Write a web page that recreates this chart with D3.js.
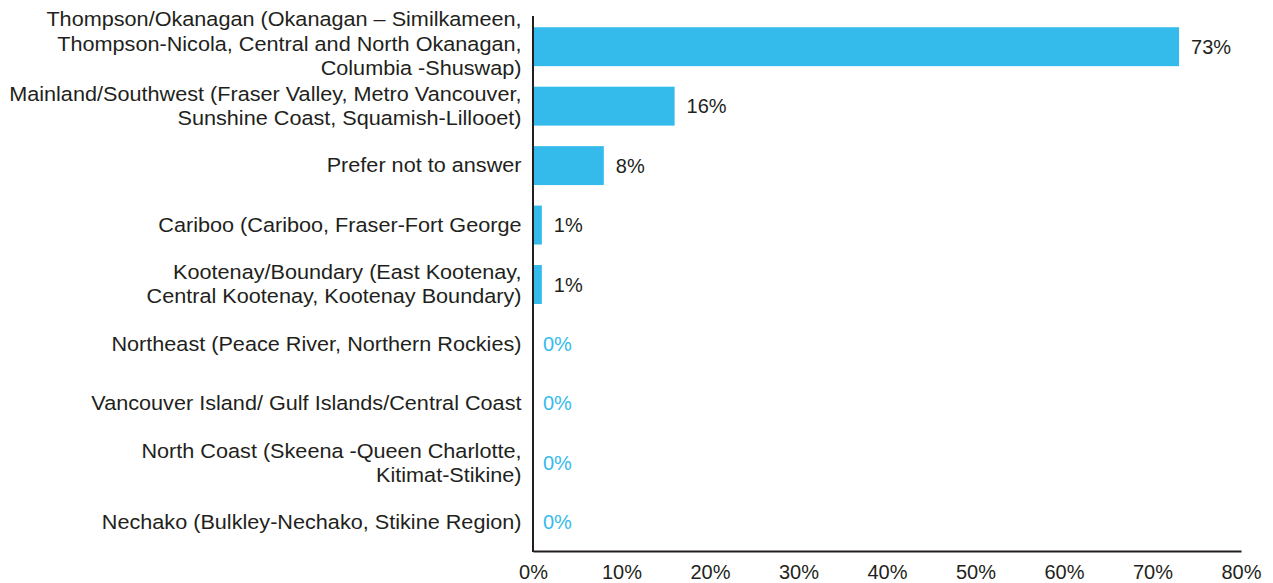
<!DOCTYPE html>
<html>
<head>
<meta charset="utf-8">
<script src="https://cdn.jsdelivr.net/npm/d3@7"></script>
<style>
  html, body { margin: 0; padding: 0; background: #ffffff; }
  svg { display: block; }
  text { font-family: "Liberation Sans", Arial, Helvetica, sans-serif; fill: #231f20; }
</style>
</head>
<body>
<svg id="chart" width="1273" height="583"></svg>
<script>
// Region of residence, share of respondents
const categories = [
  "Thompson/Okanagan (Okanagan – Similkameen,\nThompson-Nicola, Central and North Okanagan,\nColumbia -Shuswap)",
  "Mainland/Southwest (Fraser Valley, Metro Vancouver,\nSunshine Coast, Squamish-Lillooet)",
  "Prefer not to answer",
  "Cariboo (Cariboo, Fraser-Fort George",
  "Kootenay/Boundary (East Kootenay,\nCentral Kootenay, Kootenay Boundary)",
  "Northeast (Peace River, Northern Rockies)",
  "Vancouver Island/ Gulf Islands/Central Coast",
  "North Coast (Skeena -Queen Charlotte,\nKitimat-Stikine)",
  "Nechako (Bulkley-Nechako, Stikine Region)"
];
const values = [73, 16, 8, 1, 1, 0, 0, 0, 0];
const xTicks = [0, 10, 20, 30, 40, 50, 60, 70, 80];

const BLUE = "#35bbeb";
const INK = "#231f20";

const svg = d3.select("#chart");

const x = d3.scaleLinear().domain([0, 80]).range([533, 1241]);
const y = d3.scaleBand()
  .domain(categories)
  .range([17, 552])
  .paddingInner(0.345)
  .paddingOuter(0.172);

// bars
svg.append("g")
  .selectAll("rect")
  .data(categories)
  .join("rect")
  .attr("x", x(0))
  .attr("y", d => y(d))
  .attr("width", (d, i) => x(values[i]) - x(0))
  .attr("height", y.bandwidth())
  .attr("fill", BLUE);

// value labels
svg.append("g")
  .selectAll("text")
  .data(categories)
  .join("text")
  .attr("x", (d, i) => x(values[i]) + (values[i] === 0 ? 10 : 12))
  .attr("y", d => y(d) + y.bandwidth() / 2)
  .attr("dy", "0.35em")
  .style("font-size", "20px")
  .style("fill", (d, i) => values[i] === 0 ? BLUE : INK)
  .text((d, i) => values[i] + "%");

// category labels (wrapped, right-aligned against the axis)
const lineH = 24.3;
const catG = svg.append("g");
categories.forEach(c => {
  const lines = c.split("\n");
  const shift = lines.length > 2 ? -3 : 0;
  const cy = y(c) + y.bandwidth() / 2 + shift;
  const g = catG.append("g")
    .attr("transform", `translate(521.5, ${cy}) scale(1.11, 1)`);
  const t = g.append("text")
    .attr("text-anchor", "end")
    .style("font-size", "19.5px");
  lines.forEach((ln, i) => {
    t.append("tspan")
      .attr("x", 0)
      .attr("y", (i - (lines.length - 1) / 2) * lineH)
      .attr("dy", "0.35em")
      .text(ln);
  });
});

// x axis
const xAxis = d3.axisBottom(x)
  .tickValues(xTicks)
  .tickSize(0)
  .tickPadding(14)
  .tickFormat(d => d + "%");
const ax = svg.append("g")
  .attr("transform", "translate(0, 551)")
  .call(xAxis);
ax.select(".domain").attr("stroke", INK).attr("stroke-width", 2);
ax.selectAll("text")
  .style("font-size", "20px")
  .style("font-family", '"Liberation Sans", Arial, sans-serif')
  .attr("fill", INK);

// y axis line
svg.append("line")
  .attr("x1", 533).attr("x2", 533)
  .attr("y1", 16).attr("y2", 552)
  .attr("stroke", INK)
  .attr("stroke-width", 2);
</script>
</body>
</html>
